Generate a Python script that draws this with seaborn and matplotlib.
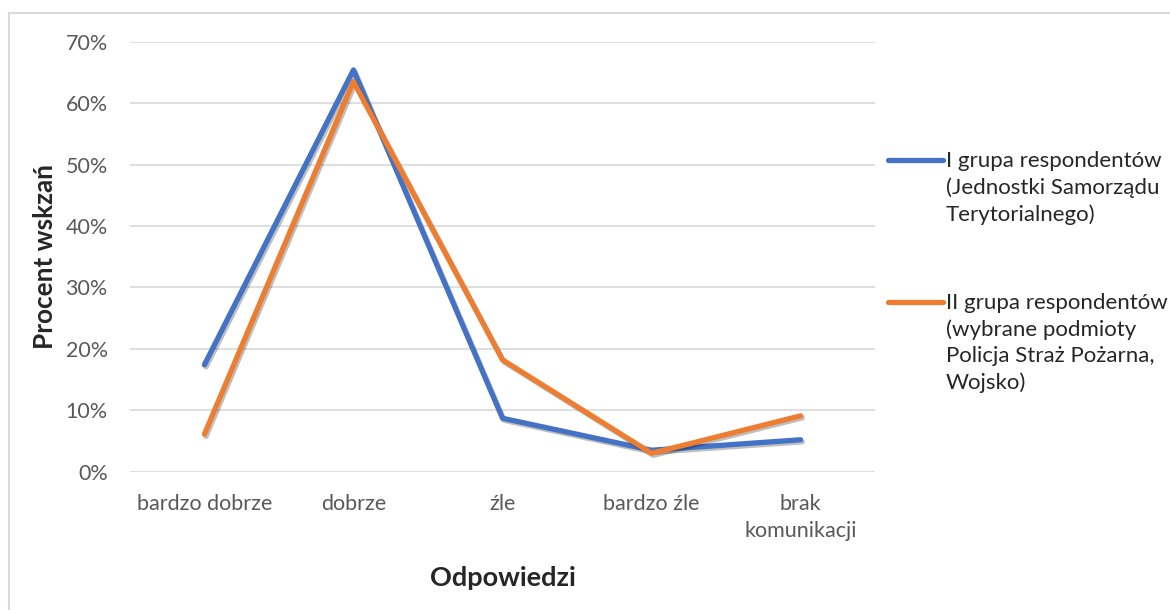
import matplotlib
matplotlib.use("Agg")
import matplotlib.pyplot as plt
import matplotlib.patheffects as pe
from matplotlib.lines import Line2D
import pandas as pd
import seaborn as sns

odpowiedzi = ["bardzo dobrze", "dobrze", "źle", "bardzo źle", "brak\nkomunikacji"]
grupa_1 = [0.174, 0.654, 0.087, 0.035, 0.052]
grupa_2 = [0.061, 0.635, 0.182, 0.030, 0.091]
serie = [
    "I grupa respondentów\n(Jednostki Samorządu\nTerytorialnego)",
    "II grupa respondentów\n(wybrane podmioty\nPolicja Straż Pożarna,\nWojsko)",
]

df = pd.DataFrame({
    "odpowiedz": odpowiedzi * 2,
    "procent": grupa_1 + grupa_2,
    "grupa": [serie[0]] * 5 + [serie[1]] * 5,
})

sns.set_style("white")
plt.rcParams["font.family"] = ["Lato", "DejaVu Sans"]

fig = plt.figure(figsize=(11.7, 6.1), dpi=100)
ax = fig.add_axes([0.111, 0.2267, 0.637, 0.705])

kolory = ["#4472C4", "#ED7D31"]
sns.lineplot(data=df, x="odpowiedz", y="procent", hue="grupa", palette=kolory,
             linewidth=3.8, sort=False, ax=ax, legend=False)
cien = [pe.SimpleLineShadow(offset=(1.2, -1.5), shadow_color="black", alpha=0.25), pe.Normal()]
for line in ax.lines:
    line.set_solid_capstyle("round")
    line.set_path_effects(cien)

ax.set_xlim(-0.5, 4.5)
ax.set_ylim(0, 0.7)
ax.set_yticks([i / 10 for i in range(8)])
ax.yaxis.set_major_formatter(lambda v, _: f"{v:.0%}")
ax.grid(axis="y", color="#D9D9D9", linewidth=1.2)
ax.set_axisbelow(True)
for s in ax.spines.values():
    s.set_visible(False)
ax.tick_params(axis="both", length=0, labelsize=15.5, colors="#595959")
ax.tick_params(axis="x", pad=16)
ax.tick_params(axis="y", pad=16)
for lab in ax.get_xticklabels():
    lab.set_linespacing(1.45)
ax.set_xlabel("Odpowiedzi", fontsize=19.5, fontweight="bold")
ax.set_ylabel("Procent wskzań", fontsize=18.8, fontweight="bold")
ax.xaxis.set_label_coords(0.5, -0.219)
ax.yaxis.set_label_coords(-0.098, 0.5)

# legenda po prawej, linia przy pierwszym wierszu opisu
for kolor, opis, y in zip(kolory, serie, [0.7237, 0.3947]):
    ax.add_line(Line2D([1.0174, 1.0913], [y, y], transform=ax.transAxes, color=kolor,
                       linewidth=3.8, solid_capstyle="round", clip_on=False))
    ax.text(1.095, y + 0.022, opis, transform=ax.transAxes, va="top", ha="left",
            fontsize=16, linespacing=1.4, color="#262626")

# obramowanie wykresu
fig.add_artist(Line2D([0.008, 1.0], [0.979, 0.979], color="#D9D9D9", linewidth=1.5))
fig.add_artist(Line2D([0.008, 0.008], [0.0, 0.979], color="#D9D9D9", linewidth=1.5))

fig.savefig("out.png", dpi=100)
